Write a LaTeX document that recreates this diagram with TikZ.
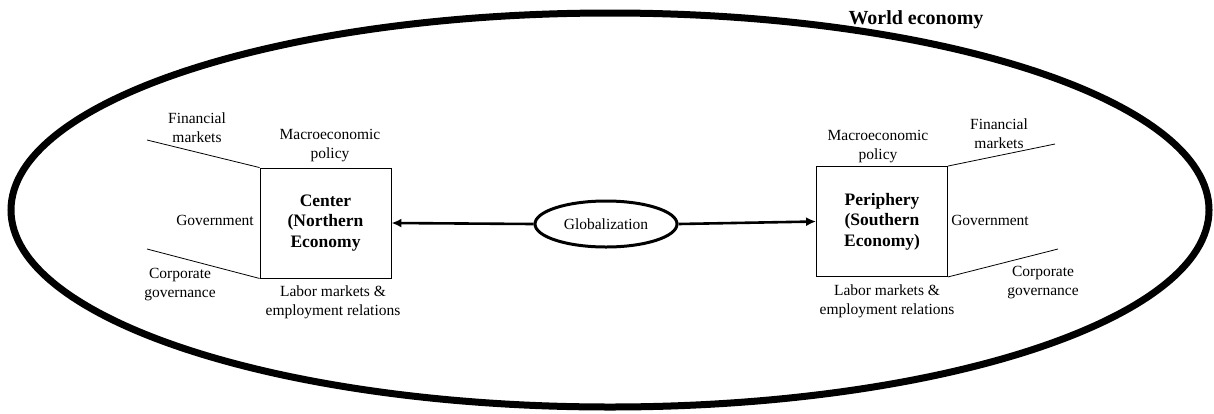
\documentclass[tikz,border=0pt]{standalone}
\usepackage{fontspec}
\setmainfont{Liberation Serif}
\usetikzlibrary{shapes.geometric,arrows.meta}
\begin{document}
\begin{tikzpicture}[x=1pt,y=-1pt,
  lbl/.style={align=center,inner sep=0pt,font=\fontsize{15.5}{19}\selectfont},
  econbox/.style={draw,line width=0.9pt,minimum width=131pt,minimum height=110pt,inner sep=0pt,align=center,font=\fontsize{17.5}{20.5}\selectfont\bfseries},
  thin/.style={line width=0.8pt},
  conn/.style={line width=2.6pt,-{Latex[length=10pt,width=9pt]}}]
\useasboundingbox (0,0) rectangle (1214,413);
\node[draw,ellipse,line width=7pt,minimum width=1198pt,minimum height=394pt,inner sep=0pt,outer sep=0pt] (world) at (610,210) {};
\node[inner sep=0pt,font=\fontsize{20}{24}\selectfont\bfseries] (wtitle) at (916,20) {World economy};
% left box
\node[econbox] (center) at (325.5,223) {Center\\(Northern\\Economy};
\node[lbl] (finL) at (197,128) {Financial\\markets};
\node[lbl] (macL) at (330,146) {Macroeconomic\\policy};
\node[lbl] (govL) at (215,220) {Government};
\node[lbl] (corL) at (180,285) {Corporate\\governance};
\node[lbl] (labL) at (333,302) {Labor markets \&\\employment relations};
\coordinate (fL) at (147,140);
\coordinate (cL) at (147,249);
\draw[thin] (fL) -- (center.north west);
\draw[thin] (cL) -- (center.south west);
% right box
\node[econbox] (peri) at (882,221.5) {Periphery\\(Southern\\Economy)};
\node[lbl] (macR) at (878,147) {Macroeconomic\\policy};
\node[lbl] (finR) at (999,134) {Financial\\markets};
\node[lbl] (govR) at (990,220) {Government};
\node[lbl] (corR) at (1043,283) {Corporate\\governance};
\node[lbl] (labR) at (887,301) {Labor markets \&\\employment relations};
\coordinate (fR) at (1055,144);
\coordinate (cR) at (1058,249);
\draw[thin] (peri.north east) -- (fR);
\draw[thin] (peri.south east) -- (cR);
% globalization
\node[draw,ellipse,line width=3pt,minimum width=142pt,minimum height=46pt,inner sep=0pt,font=\fontsize{15.5}{19}\selectfont] (glob) at (606,224) {Globalization};
\draw[conn] (glob.west) -- (center.east);
\draw[conn] (glob.east) -- (peri.west);
\end{tikzpicture}
\end{document}
